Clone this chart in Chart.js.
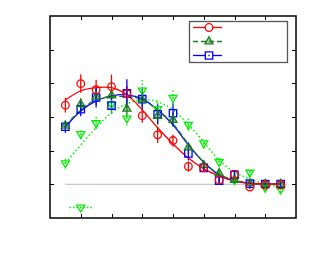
<!DOCTYPE html>
<html><head><meta charset="utf-8">
<script src="https://cdn.jsdelivr.net/npm/chart.js@4"></script>
<style>html,body{margin:0;padding:0;background:#fff}#w{width:313px;height:263px}</style>
</head><body><div id="w"><canvas id="c" width="313" height="263"></canvas></div>
<script>
// ---- data ----
const xVals = [0.5,1,1.5,2,2.5,3,3.5,4,4.5,5,5.5,6,6.5,7,7.5];
const redY   = [2.35,2.99,2.81,2.90,2.69,2.04,1.47,1.30,0.53,0.49,0.13,0.30,-0.08,-0.02,-0.02];
const redErr = [0.22,0.27,0.30,0.36,0.24,0.21,0.24,0.18,0.15,0.09,0.09,0.09,0.07,0.06,0.06];
const blueY   = [1.71,2.23,2.58,2.34,2.70,2.53,2.08,2.11,0.92,0.49,0.11,0.28,0.02,0.01,0.01];
const blueErr = [0.18,0.21,0.30,0.24,0.42,0.30,0.30,0.30,0.21,0.12,0.12,0.12,0.09,0.06,0.06];
const greenY   = [1.74,2.38,2.60,2.64,2.24,2.51,2.03,1.91,1.10,0.57,0.33,0.13,0.03,0.01,0.01];
const greenErr = [0.15,0.18,0.24,0.21,0.24,0.21,0.24,0.21,0.15,0.12,0.09,0.09,0.06,0.06,0.06];
const limeY   = [0.63,1.50,1.82,2.36,1.96,2.79,2.24,2.57,1.77,1.22,0.67,0.13,0.35,-0.10,-0.15];
const limeErr = [0.12,0.15,0.18,0.21,0.21,0.36,0.27,0.24,0.18,0.15,0.12,0.12,0.09,0.09,0.09];
const redFit   = [2.51,2.78,2.87,2.87,2.66,2.21,1.68,1.20,0.78,0.46,0.25,0.10,0.04,0.01,0.01];
const blueFit  = [1.71,2.18,2.48,2.63,2.66,2.54,2.21,1.77,1.17,0.66,0.28,0.10,0.02,0.01,0.01];
const greenFit = [1.74,2.21,2.51,2.60,2.60,2.51,2.21,1.80,1.20,0.66,0.31,0.13,0.04,0.01,0.01];
const limeFit  = [0.63,1.17,1.68,2.12,2.39,2.51,2.45,2.21,1.77,1.26,0.72,0.37,0.16,0.01,-0.08];
const outlierX = [1]; const outlierY = [-0.685]; const outlierXErr = [0.37];
const zeroLineX = [0.5, 7.7];
const xTicks = [1,2,3,4,5,6,7];
const yTicks = [0,1,2,3,4];
const xRange = [0, 8];
const yRange = [-1, 5];

const RED='#ff0000', GREEN='#1a7f1a', BLUE='#0000ff', LIME='#00ee00';
const pts = (ys, xs) => ys.map((y,i)=>({x:(xs||xVals)[i], y}));

const markerDs = (data, color, style, r, rot, fill) => ({
  type:'scatter', data, showLine:false, pointStyle:style, pointRadius:r, pointRotation:rot||0,
  borderColor:color, backgroundColor:fill||'rgba(0,0,0,0)', pointBorderWidth:1.3, pointHoverRadius:r
});
const curveDs = (data, color, dash, w) => ({
  type:'line', data, borderColor:color, borderWidth:w||1.3, borderDash:dash||[], pointRadius:0,
  tension:0.4, fill:false
});

const datasets = [
  markerDs(pts(redY), RED, 'circle', 3.8),
  markerDs(pts(greenY), GREEN, 'triangle', 4.6, 0, 'rgba(26,127,26,0.35)'),
  markerDs(pts(blueY), BLUE, 'rect', 5.2),
  markerDs(pts(limeY), LIME, 'triangle', 4.6, 180),
  markerDs(pts(outlierY, outlierX), LIME, 'triangle', 4.6, 180),
  curveDs(pts(redFit), RED),
  curveDs(pts(greenFit), GREEN, [5,3]),
  curveDs(pts(blueFit), BLUE),
  curveDs(pts(limeFit), LIME, [1.5,2.5], 1.5),
  {type:'line', data: zeroLineX.map(x=>({x,y:0})), borderColor:'#c8c8c8', borderWidth:1.2, pointRadius:0}
];
const errSets = [
  {i:0, err:redErr, color:RED, dash:[]},
  {i:1, err:greenErr, color:GREEN, dash:[]},
  {i:2, err:blueErr, color:BLUE, dash:[]},
  {i:3, err:limeErr, color:LIME, dash:[1.5,2]}
];

const deco = {
  id:'deco',
  beforeDatasetsDraw(chart){
    const ctx=chart.ctx, xs=chart.scales.x, ys=chart.scales.y;
    ctx.save();
    errSets.forEach(s=>{
      ctx.strokeStyle=s.color; ctx.lineWidth=1.3; ctx.setLineDash(s.dash);
      const ds=chart.data.datasets[s.i].data;
      ds.forEach((p,k)=>{
        const px=xs.getPixelForValue(p.x);
        ctx.beginPath();
        ctx.moveTo(px, ys.getPixelForValue(p.y - s.err[k]));
        ctx.lineTo(px, ys.getPixelForValue(p.y + s.err[k]));
        ctx.stroke();
      });
    });
    // horizontal error of outlier
    ctx.strokeStyle=LIME; ctx.lineWidth=1.5; ctx.setLineDash([1.5,2]);
    outlierX.forEach((x,k)=>{
      const py=ys.getPixelForValue(outlierY[k]);
      ctx.beginPath();
      ctx.moveTo(xs.getPixelForValue(x-outlierXErr[k]), py);
      ctx.lineTo(xs.getPixelForValue(x+outlierXErr[k]), py);
      ctx.stroke();
    });
    ctx.restore();
  },
  afterDatasetsDraw(chart){
    const ctx=chart.ctx, xs=chart.scales.x, ys=chart.scales.y, a=chart.chartArea;
    ctx.save();
    // center dots for blue squares and lime triangles
    [[2,BLUE],[3,LIME],[4,LIME]].forEach(([i,c])=>{
      chart.getDatasetMeta(i).data.forEach(el=>{
        ctx.fillStyle=c; ctx.fillRect(el.x-0.7, el.y-0.7, 1.4, 1.4);
      });
    });
    // frame
    ctx.strokeStyle='#000'; ctx.lineWidth=1.5; ctx.setLineDash([]);
    ctx.strokeRect(a.left, a.top, a.right-a.left, a.bottom-a.top);
    // inward ticks
    ctx.lineWidth=1;
    const L=4;
    xTicks.forEach(v=>{
      const px=Math.round(xs.getPixelForValue(v))+0.5;
      ctx.beginPath(); ctx.moveTo(px,a.bottom); ctx.lineTo(px,a.bottom-L);
      ctx.moveTo(px,a.top); ctx.lineTo(px,a.top+L); ctx.stroke();
    });
    yTicks.forEach(v=>{
      const py=Math.round(ys.getPixelForValue(v))+0.5;
      ctx.beginPath(); ctx.moveTo(a.left,py); ctx.lineTo(a.left+L,py);
      ctx.moveTo(a.right,py); ctx.lineTo(a.right-L,py); ctx.stroke();
    });
    // legend box
    const bx=189.5, by=21.5, bw=98, bh=41;
    ctx.fillStyle='#fff'; ctx.fillRect(bx,by,bw,bh);
    ctx.strokeStyle='#555'; ctx.lineWidth=1.3; ctx.strokeRect(bx,by,bw,bh);
    const entries=[
      {y:27.5,c:RED,dash:[],m:'circle'},
      {y:41.5,c:GREEN,dash:[5,3],m:'tri'},
      {y:55.5,c:BLUE,dash:[],m:'rect'}
    ];
    entries.forEach(e=>{
      ctx.strokeStyle=e.c; ctx.lineWidth=1.3; ctx.setLineDash(e.dash);
      ctx.beginPath(); ctx.moveTo(193,e.y); ctx.lineTo(222,e.y); ctx.stroke();
      ctx.setLineDash([]);
      const cx=209;
      ctx.beginPath();
      if(e.m==='circle'){ ctx.arc(cx,e.y,3.8,0,Math.PI*2); ctx.fillStyle='#fff'; ctx.fill(); ctx.stroke(); }
      else if(e.m==='tri'){ ctx.moveTo(cx,e.y-4.6); ctx.lineTo(cx+4,e.y+2.3); ctx.lineTo(cx-4,e.y+2.3); ctx.closePath();
        ctx.fillStyle='rgba(26,127,26,0.35)'; ctx.fill(); ctx.stroke(); }
      else { ctx.rect(cx-3.7,e.y-3.7,7.4,7.4); ctx.fillStyle='#fff'; ctx.fill(); ctx.stroke();
        ctx.fillStyle=e.c; ctx.fillRect(cx-0.7,e.y-0.7,1.4,1.4); }
    });
    ctx.restore();
  }
};

new Chart(document.getElementById('c'), {
  data:{datasets},
  options:{
    responsive:false, animation:false, devicePixelRatio:1,
    layout:{padding:{left:50,top:16,right:17,bottom:45}},
    plugins:{legend:{display:false}, tooltip:{enabled:false}},
    scales:{
      x:{type:'linear', min:xRange[0], max:xRange[1], grid:{display:false}, border:{display:false},
         ticks:{display:false}, afterFit:s=>{s.height=0;}},
      y:{type:'linear', min:yRange[0], max:yRange[1], grid:{display:false}, border:{display:false},
         ticks:{display:false}, afterFit:s=>{s.width=0;}}
    }
  },
  plugins:[deco]
});
</script>
</body></html>
